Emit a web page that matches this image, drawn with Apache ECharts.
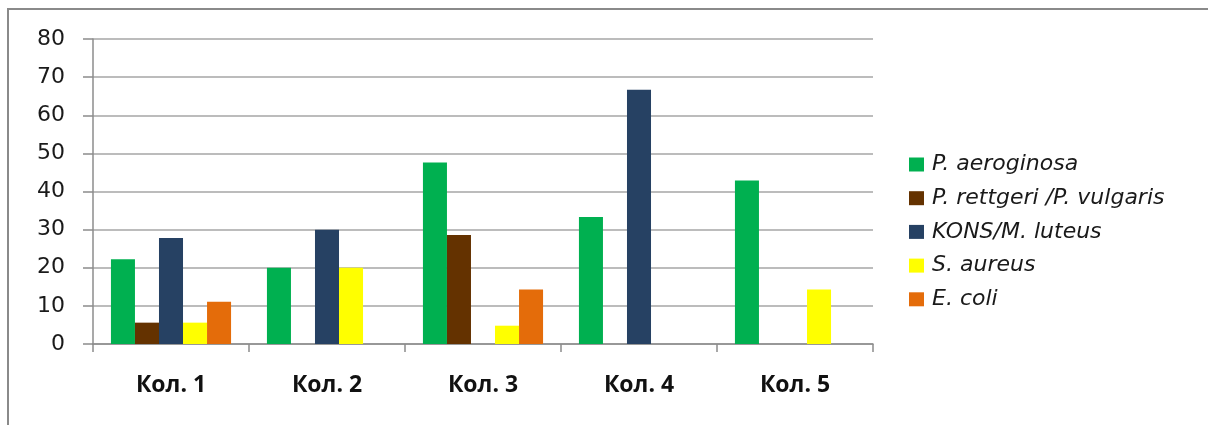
<!DOCTYPE html>
<html>
<head>
<meta charset="utf-8">
<script src="https://cdn.jsdelivr.net/npm/echarts@6/dist/echarts.min.js"></script>
<style>
html,body{margin:0;padding:0;background:#fff;overflow:hidden;}
#frame{position:absolute;left:7px;top:8px;width:1300px;height:500px;border:2px solid #8a8a8a;box-sizing:border-box;}
#chart{position:absolute;left:0;top:0;width:1208px;height:425px;}
</style>
</head>
<body>
<div id="frame"></div>
<div id="chart"></div>
<script>
const categories = ['Кол. 1', 'Кол. 2', 'Кол. 3', 'Кол. 4', 'Кол. 5'];
const seriesNames = ['P. aeroginosa', 'P. rettgeri /P. vulgaris', 'KONS/M. luteus', 'S. aureus', 'E. coli'];
const pAeroginosa = [22.2, 20.0, 47.6, 33.3, 42.9];
const pRettgeri   = [5.6, 0, 28.6, 0, 0];
const konsLuteus  = [27.8, 30.0, 0, 66.7, 0];
const sAureus     = [5.6, 20.0, 4.8, 0, 14.3];
const eColi       = [11.1, 0, 14.3, 0, 0];
const yTicks = [0, 10, 20, 30, 40, 50, 60, 70, 80];
const colors = ['#00B050', '#643200', '#264163', '#FFFF00', '#E46C0A'];

const values = [pAeroginosa, pRettgeri, konsLuteus, sAureus, eColi];
const chart = echarts.init(document.getElementById('chart'), null, {renderer: 'canvas'});
chart.setOption({
  animation: false,
  backgroundColor: 'transparent',
  grid: {left: 93, right: 335, top: 39, bottom: 81},
  legend: {
    orient: 'vertical',
    left: 909,
    top: 153.5,
    padding: 0,
    itemWidth: 15,
    itemHeight: 14,
    itemGap: 11.7,
    icon: 'rect',
    textStyle: {fontFamily: 'DejaVu Sans', fontStyle: 'italic', fontSize: 22, color: '#1a1a1a', lineHeight: 22, padding: [0,0,0,3]},
    data: seriesNames
  },
  xAxis: {
    type: 'category',
    data: categories,
    axisLine: {lineStyle: {color: '#8c8c8c', width: 1.5}},
    axisTick: {show: true, length: 8, lineStyle: {color: '#8c8c8c', width: 1.5}},
    axisLabel: {fontFamily: 'Open Sans', fontWeight: 'bold', fontSize: 23, color: '#111', margin: 30}
  },
  yAxis: {
    type: 'value',
    min: yTicks[0],
    max: yTicks[yTicks.length - 1],
    interval: 10,
    axisLine: {show: true, lineStyle: {color: '#8c8c8c', width: 1.5}},
    axisTick: {show: true, length: 10, lineStyle: {color: '#8c8c8c', width: 1.5}},
    splitLine: {lineStyle: {color: '#a6a6a6', width: 1.5}},
    axisLabel: {fontFamily: 'DejaVu Sans', fontSize: 22, color: '#1a1a1a', margin: 28}
  },
  series: seriesNames.map((n, i) => ({
    name: n,
    type: 'bar',
    data: values[i],
    barGap: '0%',
    barCategoryGap: '23%',
    itemStyle: {color: colors[i]}
  }))
});
</script>
</body>
</html>
